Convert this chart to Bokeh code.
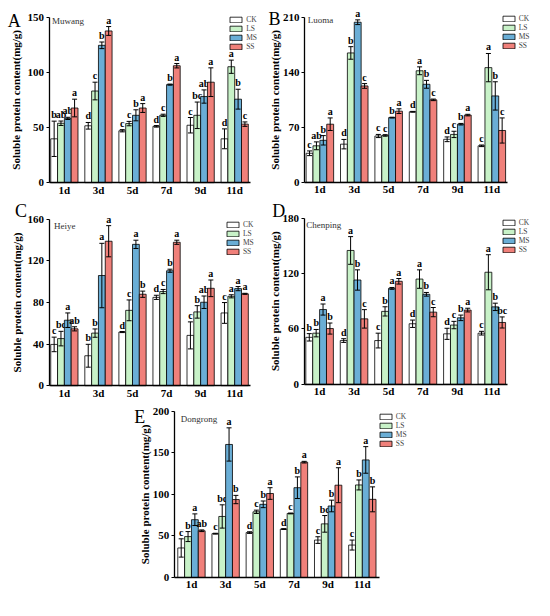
import math
from bokeh.plotting import figure
from bokeh.models import (ColumnDataSource, Range1d, FixedTicker, Whisker, TeeHead,
                          Legend, LegendItem, Label, Spacer)
from bokeh.layouts import column, row
from bokeh.core.properties import value
from bokeh.embed import file_html
from bokeh.resources import INLINE

days = ["1d", "3d", "5d", "7d", "9d", "11d"]
treatments = ["CK", "LS", "MS", "SS"]
colors = {"CK": "#ffffff", "LS": "#c8f2c8", "MS": "#6aaed6", "SS": "#f0807a"}
ylabel = "Soluble protein content(mg/g)"

# ---- A: Muwang ----
muwang_mean = {"CK": [39.7, 51.5, 47.0, 51.0, 52.0, 39.7],
               "LS": [53.8, 83.0, 53.5, 61.0, 61.0, 105.0],
               "MS": [58.2, 124.4, 61.0, 88.8, 78.0, 75.6],
               "SS": [67.6, 137.4, 67.6, 105.9, 91.0, 53.0]}
muwang_err = {"CK": [16, 3, 1, 0.7, 7, 9],
              "LS": [2, 8, 2, 1, 12, 6],
              "MS": [1, 3, 5, 0.5, 6, 9],
              "SS": [8, 4, 4, 2, 13, 2]}
muwang_lab = {"CK": ["b", "d", "c", "d", "c", "d"],
              "LS": ["ab", "c", "c", "c", "bc", "a"],
              "MS": ["ab", "b", "b", "b", "ab", "b"],
              "SS": ["a", "a", "a", "a", "a", "c"]}
muwang_ticks = [0, 50, 100, 150]

# ---- B: Luoma ----
luoma_mean = {"CK": [37.0, 48.6, 59.0, 89.8, 54.8, 46.5],
              "LS": [46.5, 164.7, 59.7, 142.0, 61.0, 146.0],
              "MS": [53.5, 203.8, 82.4, 124.8, 74.0, 110.0],
              "SS": [74.0, 122.7, 90.6, 105.0, 85.6, 66.0]}
luoma_err = {"CK": [3, 6, 2, 0.5, 3, 1],
             "LS": [5, 8, 1, 5, 4, 18],
             "MS": [6, 3, 0.5, 5, 1, 18],
             "SS": [8, 3, 3, 1, 1, 16]}
luoma_lab = {"CK": ["c", "d", "c", "d", "d", "c"],
             "LS": ["ab", "b", "c", "a", "c", "a"],
             "MS": ["b", "a", "b", "b", "b", "b"],
             "SS": ["a", "c", "a", "c", "a", "c"]}
luoma_ticks = [0, 70, 140, 210]

# ---- C: Heiye ----
heiye_mean = {"CK": [39.7, 28.8, 51.6, 85.0, 48.4, 70.0],
              "LS": [45.3, 50.6, 72.5, 90.6, 71.0, 86.0],
              "MS": [63.0, 106.0, 136.0, 110.6, 80.3, 93.4],
              "SS": [54.7, 139.0, 88.0, 138.0, 93.7, 88.4]}
heiye_err = {"CK": [7, 11, 0.5, 2, 13, 10],
             "LS": [7, 4, 10, 2, 6, 1.5],
             "MS": [7, 31, 4, 1.5, 6, 2],
             "SS": [2, 15, 3, 2, 8, 0.5]}
heiye_lab = {"CK": ["c", "b", "d", "d", "c", "c"],
             "LS": ["bc", "b", "c", "c", "b", "a"],
             "MS": ["a", "a", "a", "b", "ab", "a"],
             "SS": ["ab", "a", "b", "a", "a", "a"]}
heiye_ticks = [0, 40, 80, 120, 160]

# ---- D: Chenping ----
chenping_mean = {"CK": [50.9, 47.4, 47.4, 65.6, 54.7, 55.4],
                 "LS": [55.4, 145.0, 79.0, 114.0, 64.2, 121.4],
                 "MS": [81.0, 113.0, 103.9, 97.5, 72.0, 83.9],
                 "SS": [60.4, 70.9, 111.6, 78.2, 80.4, 67.0]}
chenping_err = {"CK": [4, 2, 8, 4, 6, 2],
                "LS": [4, 15, 5, 10, 4, 19],
                "MS": [6, 11, 1, 2, 3, 4],
                "SS": [6, 10, 3, 5, 2, 6]}
chenping_lab = {"CK": ["b", "d", "c", "d", "d", "c"],
                "LS": ["b", "a", "b", "a", "c", "a"],
                "MS": ["a", "b", "a", "b", "b", "b"],
                "SS": ["b", "c", "a", "c", "a", "bc"]}
chenping_ticks = [0, 60, 120, 180]

# ---- E: Dongrong ----
dongrong_mean = {"CK": [35.5, 52.7, 54.0, 58.2, 45.0, 39.0],
                 "LS": [49.2, 73.4, 79.0, 77.0, 64.5, 111.3],
                 "MS": [69.5, 160.0, 88.0, 108.0, 86.0, 141.4],
                 "SS": [56.2, 93.75, 101.0, 138.7, 111.0, 94.0]}
dongrong_err = {"CK": [11, 0.5, 1, 0.5, 4, 6],
                "LS": [6, 14, 2, 0.5, 10, 6],
                "MS": [7, 20, 4, 13, 7, 16],
                "SS": [1, 5, 7, 1, 21, 15]}
dongrong_lab = {"CK": ["c", "c", "d", "d", "c", "c"],
                "LS": ["b", "bc", "c", "c", "bc", "b"],
                "MS": ["a", "a", "b", "b", "b", "a"],
                "SS": ["ab", "b", "a", "a", "a", "b"]}
dongrong_ticks = [0, 50, 100, 150, 200]

SX = 534 / 550
SY = 600 / 616
SERIF = "Liberation Serif"
offsets = [-0.3, -0.1, 0.1, 0.3]


def make_panel(site, letter, means, errs, labs, yticks, geo, fig_w, fig_h):
    ox, oy = geo["o"]
    fl, fr = geo["fx"]
    y0, yt = geo["fy"]
    xlo, xhi = geo["xr"]
    fl_rel = (fl - ox) * SX
    fr_rel = (fr - ox) * SX
    y0_rel = (y0 - oy) * SY
    yt_rel = (yt - oy) * SY
    ymax = yticks[-1]
    ppx = (fr_rel - fl_rel) / (xhi - xlo)
    ppy = (y0_rel - yt_rel) / ymax
    x_start = xlo - fl_rel / ppx
    x_end = xhi + (fig_w - fr_rel) / ppx
    y_start = -(fig_h - y0_rel) / ppy
    y_end = ymax + yt_rel / ppy

    p = figure(width=fig_w, height=fig_h, x_range=Range1d(x_start, x_end),
               y_range=Range1d(y_start, y_end), output_backend="svg", toolbar_location=None,
               min_border=0, min_border_left=0, min_border_right=0,
               min_border_top=0, min_border_bottom=0)
    p.outline_line_color = None
    p.xgrid.visible = False
    p.ygrid.visible = False
    p.background_fill_color = "white"
    p.border_fill_color = "white"

    items = []
    for k, t in enumerate(treatments):
        xs = [i + offsets[k] for i in range(len(days))]
        up = [m + e for m, e in zip(means[t], errs[t])]
        lo = [m - e for m, e in zip(means[t], errs[t])]
        src = ColumnDataSource(dict(x=xs, top=means[t], up=up, lo=lo, lab=labs[t]))
        r = p.vbar(x="x", top="top", bottom=0, width=0.2, source=src,
                   fill_color=colors[t], line_color="black", line_width=0.8)
        w = Whisker(base="x", upper="up", lower="lo", source=src, line_width=1,
                    line_color="black",
                    upper_head=TeeHead(size=5, line_width=1, line_color="black"),
                    lower_head=TeeHead(size=5, line_width=1, line_color="black"))
        w.level = "overlay"
        p.add_layout(w)
        p.text(x="x", y="up", text="lab", source=src, text_align="center",
               text_baseline="bottom", y_offset=-1, text_font=value(SERIF),
               text_font_style="bold", text_font_size="10px", text_color="black")
        items.append(LegendItem(label=t, renderers=[r]))

    lgx, lgy = geo["lg"]
    lg_top_rel = (lgy - oy) * SY
    lg_h = 38
    legend = Legend(items=items,
                    location=((lgx - ox) * SX, (fig_h - lg_top_rel) - lg_h),
                    glyph_width=15, glyph_height=7, label_height=8, label_width=10,
                    spacing=0, padding=0, margin=0, label_standoff=3,
                    label_text_font=SERIF, label_text_font_size="7.5px",
                    border_line_color=None, background_fill_alpha=0)
    p.add_layout(legend)

    # axes (drawn at fixed data locations, inside the plot area)
    p.xaxis.fixed_location = 0
    p.yaxis.fixed_location = xlo
    p.xaxis.ticker = FixedTicker(ticks=list(range(len(days))))
    p.xaxis.major_label_overrides = {i: d for i, d in enumerate(days)}
    p.xaxis.bounds = (xlo, xhi)
    p.xaxis.major_tick_in = 0
    p.xaxis.major_tick_out = 0
    p.xaxis.minor_tick_line_color = None
    p.xaxis.major_label_standoff = 1
    p.yaxis.ticker = FixedTicker(ticks=yticks)
    p.yaxis.bounds = (0, ymax)
    p.yaxis.major_tick_in = 0
    p.yaxis.major_tick_out = 3
    p.yaxis.minor_tick_line_color = None
    p.yaxis.major_label_standoff = 2
    for ax in (p.xaxis, p.yaxis):
        ax.axis_line_width = 1.3
        ax.axis_line_color = "black"
        ax.major_tick_line_color = "black"
        ax.major_tick_line_width = 1.2
        ax.major_label_text_font = SERIF
        ax.major_label_text_font_style = "bold"
        ax.major_label_text_font_size = "11px"
        ax.major_label_text_color = "black"

    # y-axis title, centred on the axis span
    ylx = geo["ylab_x"]
    p.add_layout(Label(x=(ylx - ox) * SX, y=fig_h - ((y0 + yt) / 2 - oy) * SY,
                       x_units="screen", y_units="screen", text=ylabel, angle=math.pi / 2,
                       text_font=SERIF, text_font_style="bold", text_font_size="11px",
                       text_align="center", text_baseline="middle", text_color="black"))

    lx, ly = geo["letter"]
    base_rel = max((ly - oy) * SY, 13.5)
    p.add_layout(Label(x=max((lx - ox) * SX, 1), y=fig_h - base_rel, x_units="screen", y_units="screen",
                       text=letter, text_font=SERIF, text_font_size="18px",
                       text_baseline="alphabetic", text_align="left", text_color="black"))
    sx_, sy_ = geo["site"]
    p.add_layout(Label(x=(sx_ - ox) * SX, y=fig_h - (sy_ - oy) * SY, x_units="screen", y_units="screen",
                       text=site, text_font=SERIF, text_font_size="9px",
                       text_baseline="alphabetic", text_align="left", text_color="#333333"))
    return p


R2 = 197.5
R3 = 410
geoA = dict(o=(0, 0), fx=(50, 257), fy=(187, 17), xr=(-0.45, 5.45), lg=(235, 13),
            letter=(7.5, 21.5), site=(53, 21.5), ylab_x=16)
geoB = dict(o=(275, 0), fx=(313, 522), fy=(186.7, 17.3), xr=(-0.45, 5.45), lg=(515.7, 12.7),
            letter=(271.5, 18.5), site=(316.5, 20), ylab_x=282.5)
geoC = dict(o=(0, R2), fx=(50, 257), fy=(390.7, 220), xr=(-0.45, 5.45), lg=(231.7, 219),
            letter=(15, 209), site=(55, 226.5), ylab_x=16.5)
geoD = dict(o=(275, R2), fx=(312.7, 522), fy=(389.3, 218.7), xr=(-0.45, 5.45), lg=(515.7, 216.7),
            letter=(280, 205), site=(315, 226), ylab_x=282.5)
geoE = dict(o=(130, R3), fx=(179.3, 390.5), fy=(591.7, 421), xr=(-0.5, 5.5), lg=(389.3, 420),
            letter=(138, 426.5), site=(186, 429), ylab_x=149)

pA = make_panel("Muwang", "A", muwang_mean, muwang_err, muwang_lab, muwang_ticks, geoA, 267, 197)
pB = make_panel("Luoma", "B", luoma_mean, luoma_err, luoma_lab, luoma_ticks, geoB, 267, 197)
pC = make_panel("Heiye", "C", heiye_mean, heiye_err, heiye_lab, heiye_ticks, geoC, 267, 203)
pD = make_panel("Chenping", "D", chenping_mean, chenping_err, chenping_lab, chenping_ticks, geoD, 267, 203)
pE = make_panel("Dongrong", "E", dongrong_mean, dongrong_err, dongrong_lab, dongrong_ticks, geoE, 282, 200)

layout = column(row(pA, pB), row(pC, pD), row(Spacer(width=126, height=200), pE))
layout.spacing = 0

open("out.html", "w").write(file_html(layout, INLINE))
